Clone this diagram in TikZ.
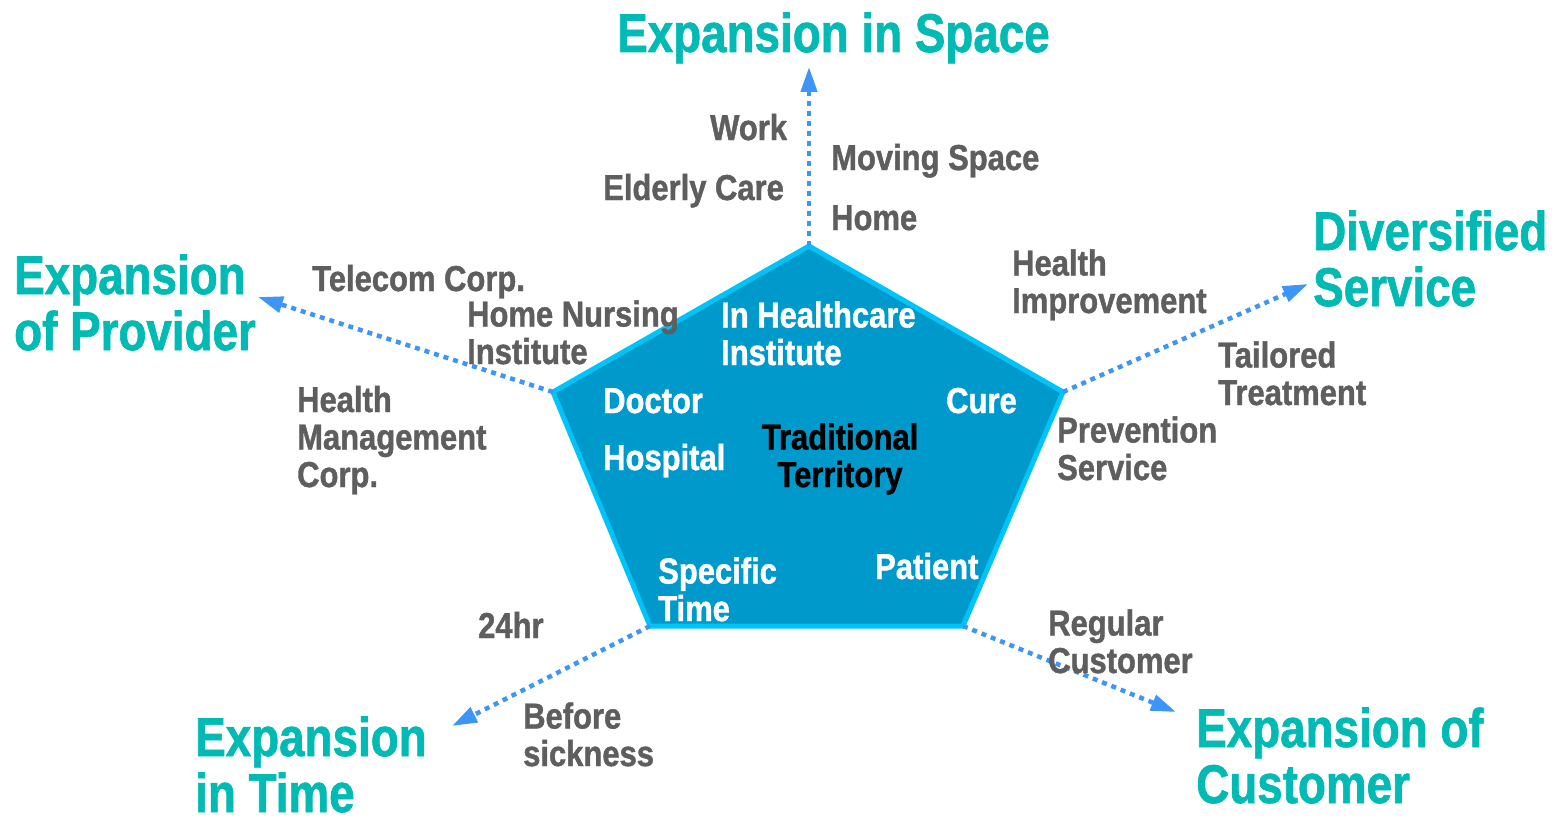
\documentclass[tikz,border=0pt]{standalone}
\usepackage{fontspec}
\setmainfont{Liberation Sans}[FakeStretch=0.84,BoldFeatures={FakeBold=1.2}]
\newfontfamily\labfont{Liberation Sans}[FakeStretch=0.86,BoldFeatures={FakeBold=1.2}]
\usetikzlibrary{arrows.meta}
\definecolor{headteal}{HTML}{00BAB3}
\definecolor{labgray}{HTML}{5E5E5E}
\definecolor{pentfill}{HTML}{0099CC}
\definecolor{pentedge}{HTML}{00C3F7}
\definecolor{arrowblue}{HTML}{3D96F7}
\tikzset{
  head/.style={text=headteal, font=\fontsize{54.5}{56}\selectfont\bfseries, anchor=base west, inner sep=0pt, align=left},
  lab/.style={text=labgray, font=\labfont\fontsize{36}{37.5}\selectfont\bfseries, anchor=base west, inner sep=0pt, align=left},
  inlab/.style={lab, text=white},
  axisarrow/.style={draw=arrowblue, line width=4.5pt, dash pattern=on 5pt off 5pt, -{Triangle[length=25pt,width=16pt]}},
  pent/.style={fill=pentfill, draw=pentedge, line width=5pt, line join=miter},
}
\begin{document}
\begin{tikzpicture}[x=1pt,y=-1pt]
\useasboundingbox (0,0) rectangle (1565,824);
% pentagon vertices
\coordinate (vt) at (809,246);
\coordinate (vl) at (553,392);
\coordinate (vr) at (1063,392);
\coordinate (vbl) at (650,626);
\coordinate (vbr) at (963,626);
\draw[pent] (vt) -- (vr) -- (vbr) -- (vbl) -- (vl) -- cycle;
% arrow ends
\coordinate (et) at (809,67);
\coordinate (el) at (258,297);
\coordinate (er) at (1308,284);
\coordinate (ebr) at (1176,712);
\coordinate (ebl) at (452,726);
\draw[axisarrow] (vt) -- (et);
\draw[axisarrow] (vl) -- (el);
\draw[axisarrow] (vr) -- (er);
\draw[axisarrow] (vbr) -- (ebr);
\draw[axisarrow] (vbl) -- (ebl);
% headings (multi-line nodes: anchor at last line's baseline)
\node[head] (hspace) at (617,52) {Expansion in Space};
\node[head] (hprov) at (14,350) {Expansion\\of Provider};
\node[head] (hserv) at (1313,306) {Diversified\\Service};
\node[head] (hcust) at (1196,803) {Expansion of\\Customer};
\node[head] (htime) at (195,812) {Expansion\\in Time};
% grey labels
\node[lab] (work) at (710,140) {Work};
\node[lab] (moving) at (831,170) {Moving Space};
\node[lab] (elderly) at (603,200) {Elderly Care};
\node[lab] (home) at (831,230) {Home};
\node[lab] (telecom) at (312,291) {Telecom Corp.};
\node[lab] (nursing) at (467,364) {Home Nursing\\Institute};
\node[lab] (hmc) at (297,487) {Health\\Management\\Corp.};
\node[lab] (himp) at (1012,313) {Health\\Improvement};
\node[lab] (tailored) at (1218,405) {Tailored\\Treatment};
\node[lab] (prev) at (1057,480) {Prevention\\Service};
\node[lab] (regular) at (1048,673) {Regular\\Customer};
\node[lab] (hr24) at (478,638) {24hr};
\node[lab] (before) at (523,766) {Before\\sickness};
% inner labels
\node[inlab] (inhc) at (721,365) {In Healthcare\\Institute};
\node[inlab] (doctor) at (603,413) {Doctor};
\node[inlab] (hospital) at (603,470) {Hospital};
\node[inlab] (cure) at (946,413) {Cure};
\node[inlab] (specific) at (658,621) {Specific\\Time};
\node[inlab] (patient) at (875,579) {Patient};
\node[lab, text=black, align=center, anchor=base] (trad) at (840,487) {Traditional\\Territory};
\end{tikzpicture}
\end{document}
